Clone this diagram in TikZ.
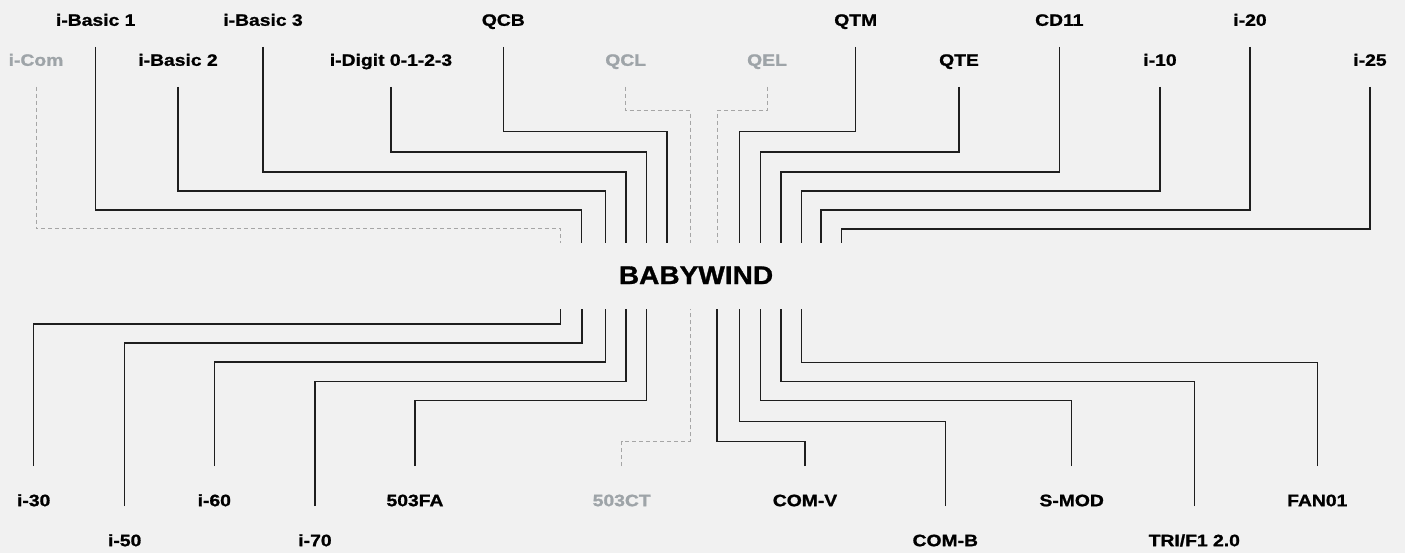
\documentclass[tikz,border=0pt]{standalone}
\usepackage{fontspec}
\usepackage{xcolor}
\usepackage{tikz}
\usetikzlibrary{positioning}
\newfontfamily\lblfont[FakeStretch=1.17, BoldFeatures={FakeBold=1.2}]{Liberation Sans}
\newfontfamily\hubfont[FakeStretch=1.1, BoldFeatures={FakeBold=1.2}]{Liberation Sans}
\definecolor{pagebg}{HTML}{F1F1F1}
\definecolor{wiregrey}{HTML}{1E1E1E}
\definecolor{mutedtxt}{HTML}{9EA4A8}
\definecolor{dashgrey}{HTML}{A6A6A6}
\tikzset{
  lbl/.style={
    rectangle, inner xsep=0pt, text height=12pt, text depth=0pt,
    font=\lblfont\bfseries\fontsize{16.5}{18}\selectfont, text=#1
  },
  lbl/.default=black,
  toplbl/.style={lbl=#1, anchor=south, inner ysep=21pt},
  toplbl/.default=black,
  botlbl/.style={lbl=#1, anchor=north, inner ysep=28pt},
  botlbl/.default=black,
  hubbox/.style={
    rectangle, inner sep=0pt, minimum height=66pt,
    text height=18pt, text depth=2pt,
    font=\hubfont\bfseries\fontsize{25.5}{28}\selectfont
  },
  wire/.style={draw=wiregrey, line width=1.2pt},
  dashwire/.style={draw=dashgrey, line width=1pt, dash pattern=on 4pt off 3pt}
}

\begin{document}
\begin{tikzpicture}[x=1pt, y=-1pt]
\fill[pagebg] (0,0) rectangle (1405,553);
\useasboundingbox (0,0) rectangle (1405,553);

\node[hubbox] (hub) at (696,276) {BABYWIND};

\node[toplbl] (ib1) at (95.7,47) {i-Basic 1};
\node[toplbl] (ib3) at (263,47) {i-Basic 3};
\node[toplbl] (qcb) at (503.3,47) {QCB};
\node[toplbl] (qtm) at (855.7,47) {QTM};
\node[toplbl] (cd11) at (1059.3,47) {CD11};
\node[toplbl] (i20) at (1250,47) {i-20};

\node[toplbl=mutedtxt] (icom) at (36,87) {i-Com};
\node[toplbl] (ib2) at (178,87) {i-Basic 2};
\node[toplbl] (idig) at (391,87) {i-Digit 0-1-2-3};
\node[toplbl=mutedtxt] (qcl) at (625.7,87) {QCL};
\node[toplbl=mutedtxt] (qel) at (767,87) {QEL};
\node[toplbl] (qte) at (959,87) {QTE};
\node[toplbl] (i10) at (1160,87) {i-10};
\node[toplbl] (i25) at (1370,87) {i-25};

\node[botlbl] (i30) at (33.7,466) {i-30};
\node[botlbl] (i60) at (214.3,466) {i-60};
\node[botlbl] (fa503) at (415,466) {503FA};
\node[botlbl=mutedtxt] (ct503) at (621.7,466) {503CT};
\node[botlbl] (comv) at (805,466) {COM-V};
\node[botlbl] (smod) at (1071.7,466) {S-MOD};
\node[botlbl] (fan01) at (1317.3,466) {FAN01};

\node[botlbl] (i50) at (124.7,506) {i-50};
\node[botlbl] (i70) at (315,506) {i-70};
\node[botlbl] (comb) at (945.3,506) {COM-B};
\node[botlbl] (tri) at (1194.3,506) {TRI/F1 2.0};

\draw[dashwire] (icom.south) |- (560.7,229) -- ([xshift=-135.3pt]hub.north);
\draw[wire] (ib1.south) |- (581.7,210) -- ([xshift=-114.3pt]hub.north);
\draw[wire] (ib2.south) |- (605.7,191) -- ([xshift=-90.3pt]hub.north);
\draw[wire] (ib3.south) |- (626,172) -- ([xshift=-70pt]hub.north);
\draw[wire] (idig.south) |- (646.7,152) -- ([xshift=-49.3pt]hub.north);
\draw[wire] (qcb.south) |- (667,131.7) -- ([xshift=-29pt]hub.north);
\draw[dashwire] (qcl.south) |- (690,111) -- ([xshift=-6pt]hub.north);
\draw[dashwire] (qel.south) |- (717,111) -- ([xshift=21pt]hub.north);
\draw[wire] (qtm.south) |- (739.7,131.7) -- ([xshift=43.7pt]hub.north);
\draw[wire] (qte.south) |- (760.3,152) -- ([xshift=64.3pt]hub.north);
\draw[wire] (cd11.south) |- (781,172) -- ([xshift=85pt]hub.north);
\draw[wire] (i10.south) |- (801.7,191) -- ([xshift=105.7pt]hub.north);
\draw[wire] (i20.south) |- (821,210) -- ([xshift=125pt]hub.north);
\draw[wire] (i25.south) |- (841.7,229) -- ([xshift=145.7pt]hub.north);

\draw[wire] (i30.north) |- (560.7,324) -- ([xshift=-135.3pt]hub.south);
\draw[wire] (i50.north) |- (582,343) -- ([xshift=-114pt]hub.south);
\draw[wire] (i60.north) |- (605.7,362) -- ([xshift=-90.3pt]hub.south);
\draw[wire] (i70.north) |- (626,381.7) -- ([xshift=-70pt]hub.south);
\draw[wire] (fa503.north) |- (646.7,400.7) -- ([xshift=-49.3pt]hub.south);
\draw[dashwire] (ct503.north) |- (690,441.7) -- ([xshift=-6pt]hub.south);
\draw[wire] (comv.north) |- (717,441.7) -- ([xshift=21pt]hub.south);
\draw[wire] (comb.north) |- (739.7,421.7) -- ([xshift=43.7pt]hub.south);
\draw[wire] (smod.north) |- (760.3,400.7) -- ([xshift=64.3pt]hub.south);
\draw[wire] (tri.north) |- (781,381.7) -- ([xshift=85pt]hub.south);
\draw[wire] (fan01.north) |- (801.7,362.3) -- ([xshift=105.7pt]hub.south);
\end{tikzpicture}
\end{document}
